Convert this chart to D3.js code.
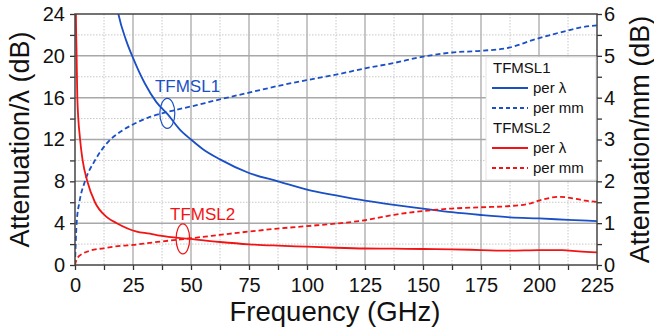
<!DOCTYPE html>
<html>
<head>
<meta charset="utf-8">
<script src="https://cdn.jsdelivr.net/npm/d3@7/dist/d3.min.js"></script>
<style>
  body { margin: 0; background: #fff; }
  text { font-family: "Liberation Sans", Arial, sans-serif; }
</style>
</head>
<body>
<svg id="chart"></svg>
<script>
// TFMSL1 attenuation per wavelength (dB), left axis
const t1LamFreq = [14, 16, 18.7, 22, 25, 30, 35, 40, 45, 50, 55, 62.5, 75, 87.5, 100, 112.5, 125, 137.5, 150, 162.5, 175, 187.5, 200, 212.5, 225]
const t1LamVal  = [30, 27.5, 24, 21.5, 19.8, 17.4, 15.6, 14.4, 13.0, 12.0, 11.1, 10.1, 8.8, 8.0, 7.2, 6.65, 6.15, 5.75, 5.4, 5.05, 4.78, 4.56, 4.45, 4.32, 4.2]
// TFMSL1 attenuation per mm (dB), right axis
const t1MmFreq = [0, 0.3, 0.7, 1.9, 4.3, 8.6, 13.6, 20.8, 25, 32.3, 40, 50, 62.5, 75, 87.5, 100, 112.5, 125, 137.5, 150, 162.5, 175, 187.5, 197.5, 205, 212, 218, 225]
const t1MmVal  = [0, 0.5, 1.0, 1.5, 2.0, 2.5, 2.9, 3.23, 3.36, 3.54, 3.66, 3.79, 3.96, 4.12, 4.28, 4.42, 4.55, 4.7, 4.83, 4.98, 5.08, 5.12, 5.2, 5.38, 5.5, 5.6, 5.68, 5.73]
// TFMSL2 attenuation per wavelength (dB), left axis
const t2LamFreq = [0.3, 0.4, 0.7, 1.0, 2.2, 3.3, 5.3, 8.6, 13.6, 18, 26.6, 32.3, 36.6, 49.6, 62.5, 75, 87.5, 100, 112.5, 125, 137.5, 150, 162.5, 175, 187.5, 200, 210, 217, 225]
const t2LamVal  = [27, 24, 20, 16, 12, 10, 8, 6, 4.6, 4.0, 3.2, 3.0, 2.8, 2.49, 2.2, 1.98, 1.85, 1.75, 1.65, 1.58, 1.56, 1.53, 1.5, 1.43, 1.37, 1.42, 1.42, 1.3, 1.21]
// TFMSL2 attenuation per mm (dB), right axis
const t2MmFreq = [0, 0.5, 1, 3.6, 7, 12.2, 20, 25, 32.3, 40, 50, 62.5, 75, 87.5, 100, 112.5, 125, 137.5, 150, 162.5, 175, 187.5, 196, 200, 209, 216, 220, 225]
const t2MmVal  = [0, 0.1, 0.16, 0.28, 0.35, 0.4, 0.46, 0.48, 0.53, 0.58, 0.64, 0.72, 0.8, 0.87, 0.93, 0.99, 1.07, 1.2, 1.29, 1.35, 1.38, 1.41, 1.47, 1.54, 1.63, 1.58, 1.54, 1.51]

const xTicks = [0, 25, 50, 75, 100, 125, 150, 175, 200, 225]
const yLeftTicks = [0, 4, 8, 12, 16, 20, 24]
const yRightTicks = [0, 1, 2, 3, 4, 5, 6]

const BLUE = '#1a4fc6'
const RED = '#f21414'

const WIDTH = 654, HEIGHT = 333
const M = {left: 75, right: 57, top: 14, bottom: 68}
const W = WIDTH - M.left - M.right
const H = HEIGHT - M.top - M.bottom

const svg = d3.select('#chart').attr('width', WIDTH).attr('height', HEIGHT)

const x = d3.scaleLinear().domain([0, 225]).range([0, W])
const yL = d3.scaleLinear().domain([0, 24]).range([H, 0])
const yR = d3.scaleLinear().domain([0, 6]).range([H, 0])

const g = svg.append('g').attr('transform', `translate(${M.left},${M.top})`)

svg.append('defs').append('clipPath').attr('id', 'clip')
  .append('rect').attr('width', W).attr('height', H)

// minor grid
const minorX = d3.range(12.5, 225, 25)
const minorY = d3.range(2, 24, 4)
g.append('g').selectAll('line').data(minorX).enter().append('line')
  .attr('x1', d => x(d)).attr('x2', d => x(d)).attr('y1', 0).attr('y2', H)
  .attr('stroke', '#c8c8c8').attr('stroke-width', 1).attr('stroke-dasharray', '1.5,1.5')
g.append('g').selectAll('line').data(minorY).enter().append('line')
  .attr('y1', d => yL(d)).attr('y2', d => yL(d)).attr('x1', 0).attr('x2', W)
  .attr('stroke', '#c8c8c8').attr('stroke-width', 1).attr('stroke-dasharray', '1.5,1.5')
// major grid
g.append('g').selectAll('line').data(xTicks.slice(1, -1)).enter().append('line')
  .attr('x1', d => x(d)).attr('x2', d => x(d)).attr('y1', 0).attr('y2', H)
  .attr('stroke', '#b4b4b4').attr('stroke-width', 1.5)
g.append('g').selectAll('line').data(yLeftTicks.slice(1, -1)).enter().append('line')
  .attr('y1', d => yL(d)).attr('y2', d => yL(d)).attr('x1', 0).attr('x2', W)
  .attr('stroke', '#a8a8a8').attr('stroke-width', 1.5)

// axes
function styleAxis(sel) {
  sel.selectAll('.domain').remove()
  sel.selectAll('line').attr('stroke', '#333').attr('stroke-width', 1.3)
  sel.selectAll('text').attr('font-size', 20).attr('fill', '#111')
    .style('font-family', '"Liberation Sans", Arial, sans-serif')
}
const minorTickLen = 5
g.append('g').attr('transform', `translate(0,${H})`)
  .call(d3.axisBottom(x).tickValues(d3.range(0, 226, 12.5)).tickSize(minorTickLen).tickPadding(8)
    .tickFormat(d => xTicks.includes(d) ? d : ''))
  .call(styleAxis)
g.append('g')
  .call(d3.axisLeft(yL).tickValues(d3.range(0, 25, 2)).tickSize(minorTickLen).tickPadding(5)
    .tickFormat(d => yLeftTicks.includes(d) ? d : ''))
  .call(styleAxis)
g.append('g').attr('transform', `translate(${W},0)`)
  .call(d3.axisRight(yR).tickValues(d3.range(0, 6.01, 0.5)).tickSize(minorTickLen).tickPadding(2)
    .tickFormat(d => yRightTicks.includes(d) ? d : ''))
  .call(styleAxis)

// curves
function zip(fs, vs) { return fs.map((f, i) => [f, vs[i]]) }
const series = [
  {data: zip(t1LamFreq, t1LamVal), y: yL, color: BLUE, dash: null},
  {data: zip(t1MmFreq, t1MmVal), y: yR, color: BLUE, dash: '5,3'},
  {data: zip(t2LamFreq, t2LamVal), y: yL, color: RED, dash: null},
  {data: zip(t2MmFreq, t2MmVal), y: yR, color: RED, dash: '5,3'}
]
const curves = g.append('g').attr('clip-path', 'url(#clip)')
series.forEach(s => {
  curves.append('path')
    .datum(s.data)
    .attr('fill', 'none')
    .attr('stroke', s.color)
    .attr('stroke-width', 1.8)
    .attr('stroke-dasharray', s.dash)
    .attr('d', d3.line().x(d => x(d[0])).y(d => s.y(d[1])).curve(d3.curveMonotoneX))
})

// frame
g.append('rect').attr('width', W).attr('height', H)
  .attr('fill', 'none').attr('stroke', '#444').attr('stroke-width', 1.5)

// annotations
g.append('text').attr('x', x(48.5)).attr('y', yL(16.5)).attr('text-anchor', 'middle')
  .attr('font-size', 17).attr('fill', BLUE).text('TFMSL1')
g.append('ellipse').attr('cx', x(39.8)).attr('cy', yL(14.5)).attr('rx', 7.5).attr('ry', 15)
  .attr('fill', 'none').attr('stroke', BLUE).attr('stroke-width', 1.2)
g.append('text').attr('x', x(55)).attr('y', yL(4.3)).attr('text-anchor', 'middle')
  .attr('font-size', 17).attr('fill', RED).text('TFMSL2')
g.append('ellipse').attr('cx', x(46.5)).attr('cy', yL(2.5)).attr('rx', 6.8).attr('ry', 15)
  .attr('fill', 'none').attr('stroke', RED).attr('stroke-width', 1.2)

// legend
const legendRows = [
  {label: 'TFMSL1', color: null},
  {label: 'per λ', color: BLUE, dash: null},
  {label: 'per mm', color: BLUE, dash: '4,3'},
  {label: 'TFMSL2', color: null},
  {label: 'per λ', color: RED, dash: null},
  {label: 'per mm', color: RED, dash: '4,3'}
]
const lg = svg.append('g').attr('transform', 'translate(486,57)')
lg.append('rect').attr('width', 110).attr('height', 123).attr('fill', '#fff')
  .attr('stroke', '#ddd').attr('stroke-width', 0.8)
legendRows.forEach((r, i) => {
  const yy = 16 + i * 20
  if (r.color) {
    lg.append('line').attr('x1', 6).attr('x2', 42).attr('y1', yy - 5).attr('y2', yy - 5)
      .attr('stroke', r.color).attr('stroke-width', 1.8).attr('stroke-dasharray', r.dash)
    lg.append('text').attr('x', 47).attr('y', yy).attr('font-size', 15).attr('fill', '#111').text(r.label)
  } else {
    lg.append('text').attr('x', 7).attr('y', yy).attr('font-size', 15).attr('fill', '#111').text(r.label)
  }
})

// axis titles
svg.append('text').attr('x', M.left + W / 2 - 1).attr('y', 321).attr('text-anchor', 'middle')
  .attr('font-size', 27.5).attr('fill', '#111').text('Frequency (GHz)')
svg.append('text').attr('transform', `translate(29,${M.top + H / 2}) rotate(-90)`)
  .attr('text-anchor', 'middle').attr('font-size', 27).attr('fill', '#111').text('Attenuation/λ (dB)')
svg.append('text').attr('transform', `translate(649,${M.top + H / 2}) rotate(-90)`)
  .attr('text-anchor', 'middle').attr('font-size', 27).attr('fill', '#111').text('Attenuation/mm (dB)')
</script>
</body>
</html>
